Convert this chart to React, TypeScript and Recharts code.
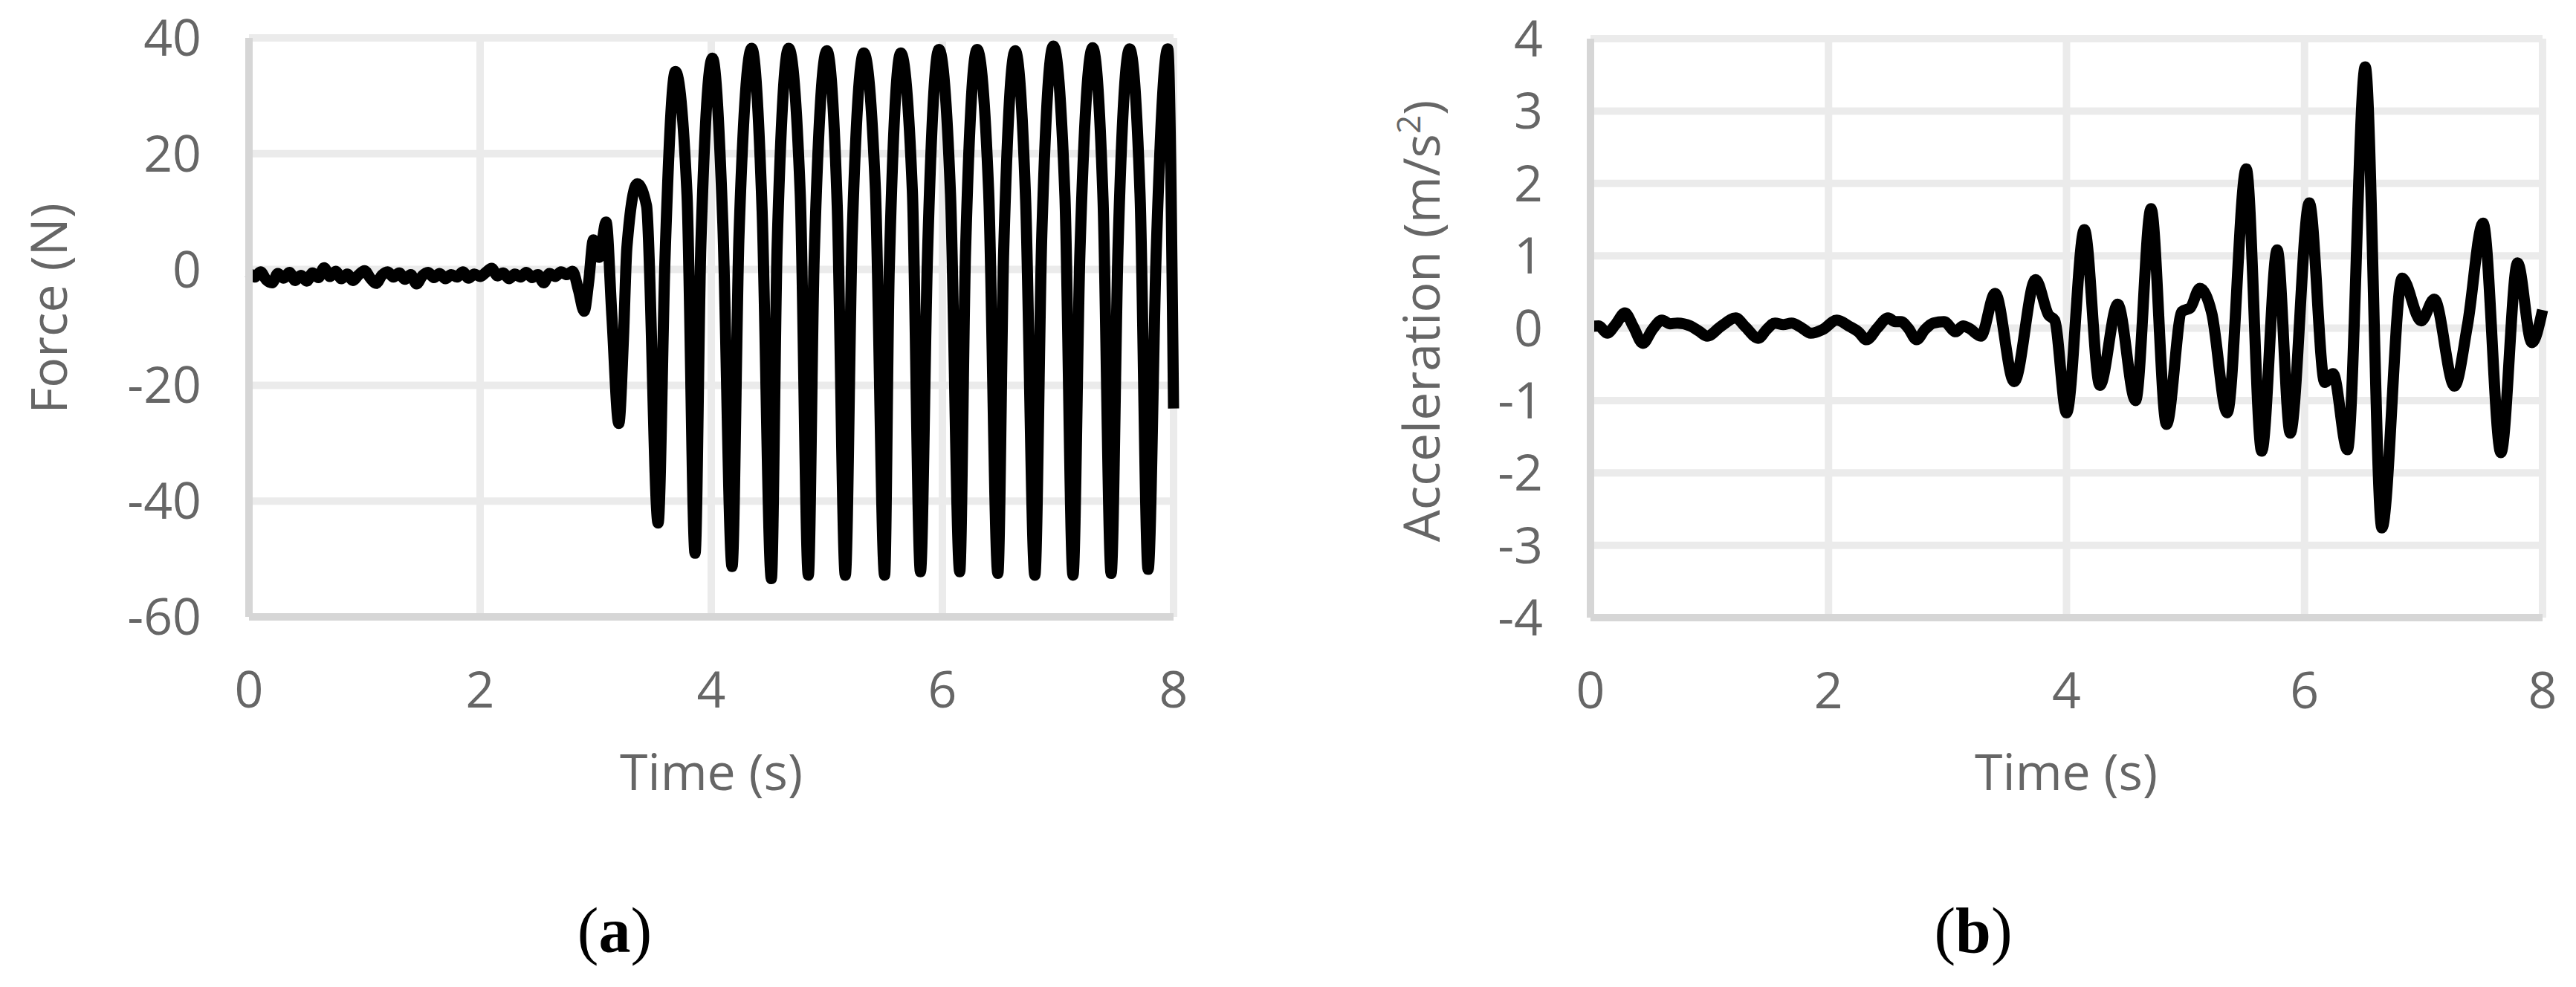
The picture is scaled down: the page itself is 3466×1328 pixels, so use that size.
import React from 'react';
import { LineChart, Line, XAxis, YAxis, CartesianGrid } from 'recharts';

const timeTicks = [0, 2, 4, 6, 8];
const forceTicks = [-60, -40, -20, 0, 20, 40];
const accelTicks = [-4, -3, -2, -1, 0, 1, 2, 3, 4];

// [time s, force N] - sensor noise before the table starts moving
const forceRest: [number, number][] = [
  [0.0, -0.6], [0.05, -1.3], [0.1, -0.4], [0.15, -1.8], [0.2, -2.3], [0.25, -0.7],
  [0.3, -1.5], [0.35, -0.5], [0.4, -1.9], [0.45, -1.0], [0.5, -2.0], [0.55, -0.6],
  [0.6, -1.4], [0.65, 0.3], [0.7, -1.2], [0.75, -0.3], [0.8, -1.6], [0.85, -0.8],
  [0.9, -1.9], [0.95, -0.9], [1.0, -0.2], [1.05, -1.5], [1.1, -2.4], [1.15, -1.0],
  [1.2, -0.4], [1.25, -1.3], [1.3, -0.6], [1.35, -1.7], [1.4, -0.9], [1.45, -2.5],
  [1.5, -1.1], [1.55, -0.5], [1.6, -1.4], [1.65, -0.7], [1.7, -1.6], [1.75, -0.9],
  [1.8, -1.3], [1.85, -0.4], [1.9, -1.5], [1.95, -0.8], [2.0, -1.2], [2.05, -0.5],
  [2.1, 0.2], [2.15, -1.1], [2.2, -0.6], [2.25, -1.6], [2.3, -0.8], [2.35, -1.3],
  [2.4, -0.5], [2.45, -1.4], [2.5, -0.9], [2.55, -2.3], [2.6, -0.7], [2.65, -1.2],
  [2.7, -0.4], [2.75, -0.9], [2.8, -0.3],
];

// [time s, force N] - start-up and steady shaking
const forceShake: [number, number][] = [
  [2.85, -3.5], [2.9, -7.2], [2.94, -2.0], [2.98, 5.1], [3.03, 2.1], [3.09, 8.2],
  [3.14, -8.0], [3.2, -26.6], [3.24, -12.0], [3.27, 3.8], [3.36, 14.8], [3.44, 11.0],
  [3.54, -43.8], [3.6, 2.0], [3.69, 34.2], [3.79, 13.0],
  [3.86, -49.0], [3.91, 4.2], [4.01, 36.5], [4.1, 8.0],
  [4.18, -51.3], [4.24, 5.9], [4.35, 38.2], [4.44, 10.2],
  [4.52, -53.4], [4.57, 4.0], [4.67, 38.2], [4.77, 13.0],
  [4.84, -52.8], [4.89, 1.6], [5.0, 37.8], [5.09, 11.0],
  [5.16, -52.8], [5.22, 6.4], [5.32, 37.4], [5.42, 14.0],
  [5.5, -52.8], [5.54, 0.0], [5.64, 37.4], [5.74, 13.6],
  [5.81, -52.2], [5.87, 1.6], [5.97, 38.0], [6.07, 13.0],
  [6.15, -52.2], [6.2, 2.9], [6.3, 38.0], [6.4, 13.6],
  [6.48, -52.5], [6.53, 2.9], [6.63, 37.8], [6.72, 12.0],
  [6.8, -52.8], [6.86, 5.9], [6.96, 38.6], [7.06, 12.8],
  [7.13, -52.8], [7.19, 3.0], [7.3, 38.3], [7.39, 12.0],
  [7.46, -52.5], [7.52, 4.0], [7.62, 38.1], [7.71, 13.0],
  [7.78, -51.8], [7.85, 3.0], [7.95, 38.1], [8.0, -24.0],
];

// [time s, acceleration m/s2]
const accel: [number, number][] = [
  [0.0, 0.02], [0.07, 0.03], [0.14, -0.07], [0.21, 0.05], [0.29, 0.21], [0.36, 0.02],
  [0.44, -0.21], [0.52, -0.02], [0.6, 0.11], [0.67, 0.06], [0.73, 0.07], [0.84, 0.03],
  [0.91, -0.04], [0.98, -0.11], [1.1, 0.03], [1.22, 0.14], [1.3, 0.02], [1.41, -0.14],
  [1.48, -0.02], [1.55, 0.07], [1.62, 0.05], [1.69, 0.07], [1.77, 0.01], [1.85, -0.07],
  [1.95, -0.02], [2.07, 0.11], [2.18, 0.02], [2.25, -0.05], [2.32, -0.16], [2.41, 0.0],
  [2.5, 0.14], [2.56, 0.09], [2.61, 0.09], [2.67, 0.0], [2.74, -0.16], [2.81, -0.02],
  [2.88, 0.07], [2.97, 0.09], [3.07, -0.05], [3.13, 0.03], [3.18, 0.0], [3.28, -0.11],
  [3.4, 0.48], [3.56, -0.74], [3.74, 0.67], [3.85, 0.18], [3.9, 0.11], [4.0, -1.17],
  [4.15, 1.36], [4.28, -0.79], [4.43, 0.33], [4.58, -1.0], [4.71, 1.65], [4.84, -1.33],
  [4.97, 0.23], [5.04, 0.28], [5.12, 0.55], [5.22, 0.21], [5.35, -1.17], [5.51, 2.2],
  [5.64, -1.7], [5.77, 1.08], [5.88, -1.45], [6.04, 1.73], [6.17, -0.75], [6.24, -0.63],
  [6.36, -1.68], [6.51, 3.61], [6.65, -2.76], [6.82, 0.69], [6.98, 0.1], [7.09, 0.4],
  [7.26, -0.8], [7.37, 0.05], [7.5, 1.45], [7.65, -1.72], [7.79, 0.9], [7.91, -0.2],
  [8.0, 0.25],
];

const forceData = [...forceRest, ...forceShake].map(([t, v]) => ({ t, v }));
const accelData = accel.map(([t, v]) => ({ t, v }));

const FONT = '"Open Sans", sans-serif';
const GREY = '#666666';
const GRID = '#ebebeb';
const AXIS = '#d6d6d6';

const XTick = (props: any) => (
  <text x={props.x} y={props.y + 122} textAnchor="middle" fill={GREY} fontSize={68} fontFamily={FONT}>
    {props.payload.value}
  </text>
);

const YTick = (props: any) => (
  <text x={props.x - 64} y={props.y + 24} textAnchor="end" fill={GREY} fontSize={68} fontFamily={FONT}>
    {props.payload.value}
  </text>
);

const Panel = ({ data, left, width, yWidth, right, top, xHeight, domain, ticks }: any) => (
  <div style={{ position: 'absolute', left, top: 0 }}>
    <LineChart width={width} height={1100} data={data} margin={{ top, right, bottom: 0, left: 0 }}>
      <CartesianGrid stroke={GRID} strokeWidth={10} />
      <XAxis
        dataKey="t"
        type="number"
        domain={[0, 8]}
        ticks={timeTicks}
        interval={0}
        height={xHeight}
        tickSize={0}
        tickMargin={0}
        tickLine={false}
        axisLine={{ stroke: AXIS, strokeWidth: 10 }}
        tick={XTick}
      />
      <YAxis
        type="number"
        domain={domain}
        ticks={ticks}
        interval={0}
        width={yWidth}
        tickSize={0}
        tickMargin={0}
        tickLine={false}
        axisLine={{ stroke: AXIS, strokeWidth: 10 }}
        tick={YTick}
      />
      <Line
        type="monotone"
        dataKey="v"
        stroke="#000000"
        strokeWidth={15}
        strokeLinejoin="round"
        dot={false}
        activeDot={false}
        isAnimationActive={false}
      />
    </LineChart>
  </div>
);

export default function App() {
  return (
    <div style={{ position: 'fixed', left: 0, top: 0, width: 3466, height: 1328, background: '#fff', overflow: 'hidden' }}>
      <Panel data={forceData} left={0} width={1700} yWidth={335} right={121} top={51} xHeight={270} domain={[-60, 40]} ticks={forceTicks} />
      <Panel data={accelData} left={1750} width={1716} yWidth={390} right={45} top={52} xHeight={269} domain={[-4, 4]} ticks={accelTicks} />
      <svg width={3466} height={1328} style={{ position: 'absolute', left: 0, top: 0, pointerEvents: 'none' }}>
        <text transform="translate(66, 415) rotate(-90)" y={24} textAnchor="middle" fill={GREY} fontSize={68} fontFamily={FONT}>
          Force (N)
        </text>
        <text transform="translate(1913, 432) rotate(-90)" y={24} textAnchor="middle" fill={GREY} fontSize={68} fontFamily={FONT}>
          Acceleration (m/s<tspan dy={-26} fontSize={44}>2</tspan><tspan dy={26}>)</tspan>
        </text>
        <text x={957} y={1063} textAnchor="middle" fill={GREY} fontSize={68} fontFamily={FONT}>Time (s)</text>
        <text x={2780} y={1063} textAnchor="middle" fill={GREY} fontSize={68} fontFamily={FONT}>Time (s)</text>
        <text x={827} y={1281} textAnchor="middle" fill="#000" fontSize={86} fontFamily='"Liberation Serif", serif'>
          (<tspan fontWeight="bold">a</tspan>)
        </text>
        <text x={2655} y={1281} textAnchor="middle" fill="#000" fontSize={86} fontFamily='"Liberation Serif", serif'>
          (<tspan fontWeight="bold">b</tspan>)
        </text>
      </svg>
    </div>
  );
}
